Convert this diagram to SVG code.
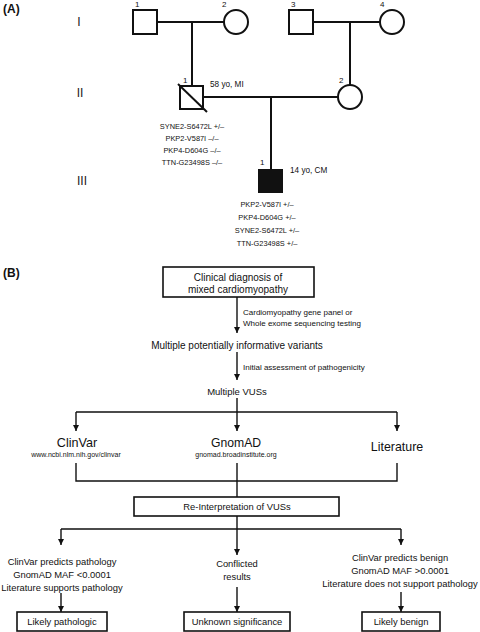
<svg xmlns="http://www.w3.org/2000/svg" width="480" height="632" viewBox="0 0 480 632">
<style>
text{font-family:"Liberation Sans",Arial,sans-serif;fill:#111}
.ped{fill:#fff;stroke:#111;stroke-width:2}
.pl{fill:none;stroke:#111;stroke-width:2}
.fl{fill:none;stroke:#111;stroke-width:1.4}
.box{fill:#fff;stroke:#111;stroke-width:1.6}
.hd{font-weight:bold;font-size:12px}
.gen{font-size:12px;fill:#222}
.num{font-size:8px}
.var{font-size:7.4px;text-anchor:middle}
.age{font-size:8.2px}
.m{text-anchor:middle}
</style>
<defs>
<marker id="ah" viewBox="0 0 6 6" refX="6" refY="3" markerWidth="6" markerHeight="6" markerUnits="userSpaceOnUse" orient="auto">
<path d="M0,0 L6,3 L0,6 z" fill="#111"/>
</marker>
</defs>
<rect width="480" height="632" fill="#fff"/>
<text class="hd" x="3" y="13">(A)</text>
<text class="hd" x="3" y="277">(B)</text>
<text class="gen m" x="79" y="26">I</text>
<text class="gen m" x="80" y="97">II</text>
<text class="gen m" x="82" y="185">III</text>
<g id="pedigree-lines">
<path class="pl" d="M157,22 H224 M192,22 V86 M313,22 H380 M350,22 V85 M203,97 H338 M271,97 V169"/>
</g>
<g id="I-1"><rect class="ped" x="133" y="10" width="24" height="24"/><text class="num" x="135" y="7">1</text></g>
<g id="I-2"><circle class="ped" cx="236" cy="22" r="12"/><text class="num" x="222" y="7">2</text></g>
<g id="I-3"><rect class="ped" x="289" y="10" width="24" height="24"/><text class="num" x="291" y="7">3</text></g>
<g id="I-4"><circle class="ped" cx="392" cy="22" r="12"/><text class="num" x="380" y="7">4</text></g>
<g id="II-1"><rect class="ped" x="180" y="86" width="23" height="23"/><path class="pl" d="M178,84 L207,112"/><text class="num" x="183" y="83">1</text><text class="age" x="210" y="87">58 yo, MI</text>
<text class="var" x="192" y="129">SYNE2-S6472L +/–</text>
<text class="var" x="192" y="141">PKP2-V587I –/–</text>
<text class="var" x="192" y="153">PKP4-D604G –/–</text>
<text class="var" x="192" y="165">TTN-G23498S –/–</text></g>
<g id="II-2"><circle class="ped" cx="350" cy="97" r="12"/><text class="num" x="339" y="83">2</text></g>
<g id="III-1"><rect x="258" y="169" width="25" height="24" fill="#111"/><text class="num" x="260" y="165">1</text><text class="age" x="290" y="173">14 yo, CM</text>
<text class="var" x="267" y="207">PKP2-V587I +/–</text>
<text class="var" x="267" y="220">PKP4-D604G +/–</text>
<text class="var" x="267" y="233">SYNE2-S6472L +/–</text>
<text class="var" x="267" y="246">TTN-G23498S +/–</text></g>

<g id="connectors">
<path class="fl" d="M237,297 V333" marker-end="url(#ah)"/>
<path class="fl" d="M237,352 V380" marker-end="url(#ah)"/>
<path class="fl" d="M237,398 V412 M76,412 H397"/>
<path class="fl" d="M76,412 V431" marker-end="url(#ah)"/>
<path class="fl" d="M237,412 V431" marker-end="url(#ah)"/>
<path class="fl" d="M397,412 V431" marker-end="url(#ah)"/>
<path class="fl" d="M76,463 V481 H397 V463 M237,463 V497"/>
<path class="fl" d="M237,516 V529 M61,529 H401"/>
<path class="fl" d="M61,529 V545" marker-end="url(#ah)"/>
<path class="fl" d="M237,529 V555" marker-end="url(#ah)"/>
<path class="fl" d="M401,529 V545" marker-end="url(#ah)"/>
<path class="fl" d="M61,593 V612" marker-end="url(#ah)"/>
<path class="fl" d="M237,587 V612" marker-end="url(#ah)"/>
<path class="fl" d="M401,592 V612" marker-end="url(#ah)"/>
<text x="243" y="315" font-size="8">Cardiomyopathy gene panel or</text>
<text x="243" y="326" font-size="8">Whole exome sequencing testing</text>
<text x="243" y="370" font-size="8">Initial assessment of pathogenicity</text>
</g>

<g id="clinical"><rect class="box" x="163" y="267" width="151" height="30"/>
<text class="m" x="238" y="281" font-size="10">Clinical diagnosis of</text>
<text class="m" x="238" y="293" font-size="10">mixed cardiomyopathy</text></g>
<g id="variants"><text class="m" x="237" y="349" font-size="10">Multiple potentially informative variants</text></g>
<g id="vus"><text class="m" x="237" y="395" font-size="9.5">Multiple VUSs</text></g>
<g id="clinvar"><text class="m" x="77" y="447" font-size="12.6">ClinVar</text>
<text class="m" x="76" y="457" font-size="7">www.ncbi.nlm.nih.gov/clinvar</text></g>
<g id="gnomad"><text class="m" x="236" y="447" font-size="12.2">GnomAD</text>
<text class="m" x="236" y="457" font-size="7">gnomad.broadinstitute.org</text></g>
<g id="literature"><text class="m" x="397" y="451" font-size="12.4">Literature</text></g>
<g id="reinterp"><rect class="box" x="134" y="497" width="205" height="19"/>
<text class="m" x="237" y="510" font-size="9.4">Re-Interpretation of VUSs</text></g>
<g id="path-criteria">
<text class="m" x="62" y="565" font-size="9.4">ClinVar predicts pathology</text>
<text class="m" x="62" y="578" font-size="9.4">GnomAD MAF &lt;0.0001</text>
<text class="m" x="62" y="591" font-size="9.4">Literature supports pathology</text></g>
<g id="conflicted">
<text class="m" x="237" y="567" font-size="9.4">Conflicted</text>
<text class="m" x="237" y="580" font-size="9.4">results</text></g>
<g id="benign-criteria">
<text class="m" x="400" y="561" font-size="9.4">ClinVar predicts benign</text>
<text class="m" x="400" y="574" font-size="9.4">GnomAD MAF &gt;0.0001</text>
<text class="m" x="400" y="587" font-size="9.4">Literature does not support pathology</text></g>
<g id="likely-pathologic"><rect class="box" x="17" y="612" width="90" height="19"/>
<text class="m" x="62" y="625" font-size="9.4">Likely pathologic</text></g>
<g id="unknown"><rect class="box" x="184" y="612" width="106" height="19"/>
<text class="m" x="237" y="625" font-size="9.4">Unknown significance</text></g>
<g id="likely-benign"><rect class="box" x="362" y="612" width="78" height="19"/>
<text class="m" x="401" y="625" font-size="9.4">Likely benign</text></g>
</svg>
